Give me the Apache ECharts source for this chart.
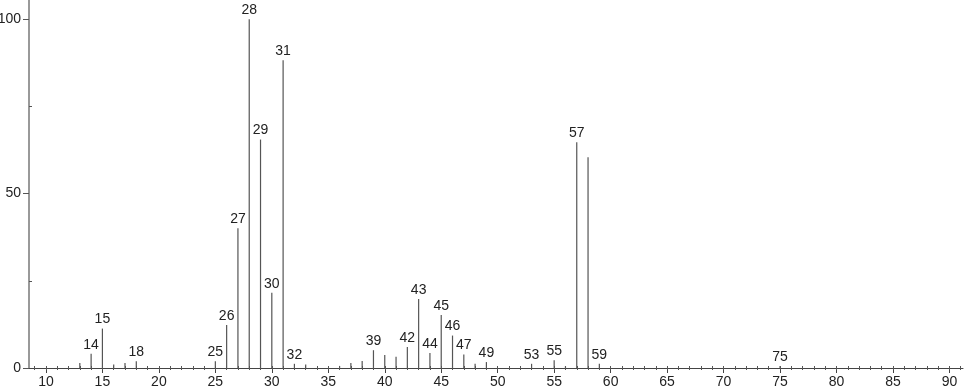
<!DOCTYPE html>
<html>
<head>
<meta charset="utf-8">
<script src="https://cdn.jsdelivr.net/npm/echarts@6/dist/echarts.min.js"></script>
<style>html,body{margin:0;padding:0;background:#fff}#c{width:966px;height:389px}</style>
</head>
<body>
<div id="c"></div>
<script>
const mz = [13,14,15,16,17,18,25,26,27,28,29,30,31,32,33,36,37,38,39,40,41,42,43,44,45,46,47,48,49,53,55,56,57,58,59,75];
const intensity = [1.4,4.1,11.3,1.0,1.4,1.9,1.9,12.3,40.1,100,65.5,21.6,88.2,1.2,1.0,0.6,1.4,2.0,5.1,3.7,3.2,6.0,19.8,4.3,15.2,9.3,3.9,1.2,1.7,1.2,2.2,0.5,64.7,60.4,1.2,0.6];
const labeledPeaks = [14,15,18,25,26,27,28,29,30,31,32,39,42,43,44,45,46,47,49,53,55,57,59,75];
const xMajorTicks = [10,15,20,25,30,35,40,45,50,55,60,65,70,75,80,85,90];
const xMinorTicks = [];
for (let v = 9; v <= 91; v++) xMinorTicks.push(v);
const yMajorTicks = [0,50,100];
const yMinorTicks = [25,75];

const FONT = 'Liberation Sans';
const labeledSet = new Set(labeledPeaks);
const chart = echarts.init(document.getElementById('c'));
const xBase = {type:'value', min:8.5, max:91.2, gridIndex:0, position:'bottom', splitLine:{show:false}};
chart.setOption({
  animation:false,
  grid:{left:29, right:3, top:0, bottom:21, containLabel:false, outerBoundsMode:'none'},
  xAxis:[
    Object.assign({}, xBase, {
      axisLine:{show:true, lineStyle:{color:'#444', width:1}},
      axisTick:{show:true, length:5, customValues:xMajorTicks, lineStyle:{color:'#444'}},
      axisLabel:{show:true, customValues:xMajorTicks, margin:7, color:'#222', fontFamily:FONT, fontSize:14}
    }),
    Object.assign({}, xBase, {
      axisLine:{show:false},
      axisTick:{show:true, length:2, customValues:xMinorTicks, lineStyle:{color:'#555'}},
      axisLabel:{show:false}
    }),
    Object.assign({}, xBase, {
      axisLine:{show:false},
      axisTick:{show:true, inside:true, length:2, customValues:xMinorTicks, lineStyle:{color:'#555'}},
      axisLabel:{show:false}
    })
  ],
  yAxis:[
    {type:'value', min:0, max:105.5, position:'left', splitLine:{show:false},
     axisLine:{show:true, lineStyle:{color:'#999', width:2}},
     axisTick:{show:true, length:6, customValues:yMajorTicks, lineStyle:{color:'#555'}},
     axisLabel:{show:true, customValues:yMajorTicks, margin:8, color:'#222', fontFamily:FONT, fontSize:14}},
    {type:'value', min:0, max:105.5, position:'left', splitLine:{show:false},
     axisLine:{show:false},
     axisTick:{show:true, inside:true, length:3, customValues:yMinorTicks, lineStyle:{color:'#555'}},
     axisLabel:{show:false}}
  ],
  series:[{
    type:'bar', xAxisIndex:0, yAxisIndex:0, barWidth:1.2,
    data: mz.map((m,i)=>[m, intensity[i]]),
    itemStyle:{color:'#555'},
    label:{show:true, position:'top', distance:2, color:'#222', fontFamily:FONT, fontSize:14,
      formatter:p=> labeledSet.has(p.value[0]) ? String(p.value[0]) : ''}
  }]
});
</script>
</body>
</html>
